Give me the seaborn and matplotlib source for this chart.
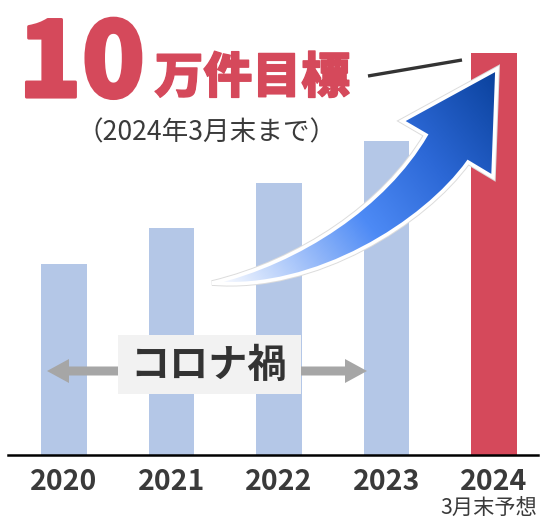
"""
plot.py - bar chart of the yearly count with the 10万件 target for 2024
"""
import numpy as np
import matplotlib
matplotlib.use("Agg")
import matplotlib.pyplot as plt
import matplotlib.patches as mpatches
import matplotlib.patheffects as pe
from matplotlib.path import Path
from matplotlib.textpath import TextPath
from matplotlib.font_manager import FontProperties
from matplotlib.colors import LinearSegmentedColormap
import seaborn as sns

# Data (counts)
YEARS = ['2020', '2021', '2022', '2023', '2024']
COUNTS = [47500, 56500, 67700, 78100, 100000]
TITLE_BIG = '10'
TITLE_REST = '万件目標'
SUBTITLE = '（2024年3月末まで）'
NOTE_2024 = '3月末予想'
COVID_LABEL = 'コロナ禍'

BLUE = "#B4C7E7"
RED = "#D5495B"
DARK = "#3a3a3a"
GREY = "#a6a6a6"
BAR_COLORS = [BLUE, BLUE, BLUE, BLUE, RED]
FONT = 'Noto Sans CJK JP'

sns.set_style('white')
plt.rcParams['font.family'] = [FONT, 'DejaVu Sans']

W, H = 545, 522
fig = plt.figure(figsize=(W / 100, H / 100), dpi=100)


def fit_text(ax, s, x0, y0, x1, y1, weight='normal', by='height', **kw):
    """put text s so that its ink fills the pixel box (y grows downward)"""
    fp = FontProperties(family=FONT, weight=weight)
    ext = TextPath((0, 0), s, size=100, prop=fp).get_extents()
    if by == 'height':
        k = (y1 - y0) / ext.height
    else:
        k = (x1 - x0) / ext.width
    x = x0 - ext.x0 * k
    y = y1 + ext.y0 * k
    return ax.text(x, y, s, fontproperties=fp, fontsize=100 * k * 0.72,
                   ha='left', va='baseline', **kw)


# main axes, the baseline sits at y=455 px
ax = fig.add_axes([8 / W, (H - 455) / H, (538 - 8) / W, 455 / H])
sns.barplot(x=YEARS, y=COUNTS, hue=YEARS, palette=BAR_COLORS, width=0.42,
            saturation=1, legend=False, linewidth=0, ax=ax)
ax.set_xlim(-0.521, 4.409)
ax.set_ylim(0, max(COUNTS) * 455 / 402)
for s in ['top', 'left', 'right']:
    ax.spines[s].set_visible(False)
ax.spines['bottom'].set_color('black')
ax.spines['bottom'].set_linewidth(1.8)
ax.set_yticks([])
ax.set_xlabel('')
ax.set_ylabel('')
ax.tick_params(axis='x', length=0, pad=9, labelsize=20.5, labelcolor=DARK)
for lab in ax.get_xticklabels():
    lab.set_fontweight('bold')

# overlay in pixel coordinates for the decorations
ov = fig.add_axes([0, 0, 1, 1])
ov.set_xlim(0, W)
ov.set_ylim(H, 0)
ov.axis('off')
ov.patch.set_alpha(0)

fit_text(ov, NOTE_2024, 441, 502, 536, 516, by='width', color=DARK)

# title
thick = [pe.withStroke(linewidth=2.2, foreground=RED)]
fit_text(ov, TITLE_BIG, 26.5, 18.2, 146.5, 98.5, weight='black', color=RED,
         path_effects=thick)
fit_text(ov, TITLE_REST, 155, 51, 352, 97.5, weight='black', color=RED,
         path_effects=[pe.withStroke(linewidth=1.0, foreground=RED)])
ov.plot([368, 462], [76, 60], color='#333333', lw=2.4, solid_capstyle='butt')
fit_text(ov, SUBTITLE, 95, 121.7, 318, 143, by='width', color=DARK)

# コロナ禍 arrows and box
ov.add_patch(mpatches.FancyArrow(125, 371, -78, 0, width=9, head_width=24,
                                 head_length=22, length_includes_head=True,
                                 color=GREY, lw=0))
ov.add_patch(mpatches.FancyArrow(295, 371, 72, 0, width=9, head_width=24,
                                 head_length=22, length_includes_head=True,
                                 color=GREY, lw=0))
ov.add_patch(mpatches.Rectangle((118, 335), 183, 59, color='#f2f2f2', lw=0))
fit_text(ov, COVID_LABEL, 136, 343, 285, 380, weight='bold', by='width',
         color='#333333')

# big gradient arrow
verts = [(212, 283), (300, 262), (385, 205), (426, 135),
         (402, 121), (497, 69), (493, 177), (468, 162),
         (425, 222), (315, 292), (212, 283), (212, 283)]
codes = [Path.MOVETO, Path.CURVE4, Path.CURVE4, Path.CURVE4,
         Path.LINETO, Path.LINETO, Path.LINETO, Path.LINETO,
         Path.CURVE4, Path.CURVE4, Path.CURVE4, Path.CLOSEPOLY]
arrow_path = Path(verts, codes)

halo = mpatches.PathPatch(arrow_path, facecolor='none', edgecolor='#dcdcdc', lw=4.0, zorder=3)
ov.add_patch(halo)

tail = np.array([212, 283])
tip = np.array([497, 69])
d = tip - tail
gx, gy = np.meshgrid(np.linspace(200, 510, 320), np.linspace(60, 300, 240))
t = ((gx - tail[0]) * d[0] + (gy - tail[1]) * d[1]) / (d @ d)
t = np.clip(t, 0, 1)
cmap = LinearSegmentedColormap.from_list(
    'arrow', [(0, '#ffffff'), (0.22, '#a9c6fa'), (0.45, '#4d8af5'),
              (0.7, '#2c68d6'), (1, '#0a419c')])
img = ov.imshow(t, cmap=cmap, extent=(200, 510, 300, 60), origin='upper',
                aspect='auto', zorder=4, interpolation='bilinear')
clip = mpatches.PathPatch(arrow_path, facecolor='none', edgecolor='none')
ov.add_patch(clip)
img.set_clip_path(clip)

edge = mpatches.PathPatch(arrow_path, facecolor='none', edgecolor='white', lw=2.6,
                          joinstyle='miter', zorder=5)
ov.add_patch(edge)

ov.set_xlim(0, W)
ov.set_ylim(H, 0)

fig.savefig('out.png', dpi=100)
plt.close(fig)
